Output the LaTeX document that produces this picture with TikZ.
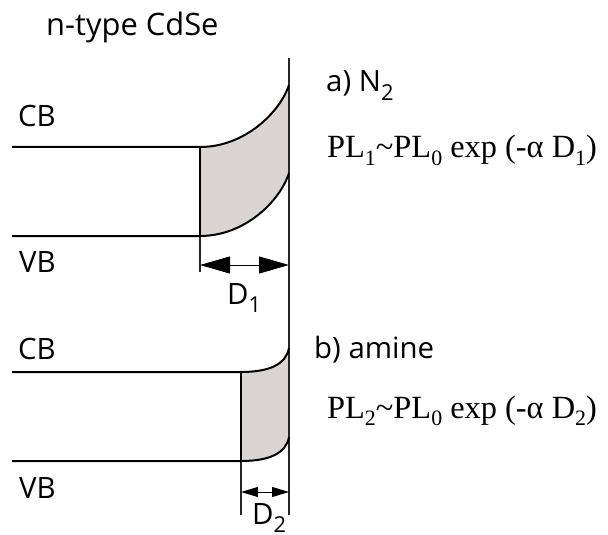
\documentclass[tikz,border=0pt]{standalone}
\usepackage{fontspec}
\setmainfont{Liberation Serif}
\newfontfamily\labfont{Open Sans}
\usetikzlibrary{arrows.meta}
\definecolor{bandfill}{RGB}{218,213,211}
\newcommand\sansdn[1]{\raisebox{-0.28em}{\fontsize{22}{22}\selectfont #1}}
\newcommand\serifdn[1]{\raisebox{-0.22em}{\fontsize{22}{22}\selectfont #1}}
\begin{document}
\begin{tikzpicture}[x=1bp,y=-1bp,
  band/.style={line width=2bp, black},
  guide/.style={line width=1.1bp, black!85},
  lab/.style={font=\labfont\fontsize{29.5}{29.5}\selectfont, anchor=base west, inner sep=0pt},
  formula/.style={font=\fontsize{32.5}{32.5}\selectfont, anchor=base west, inner sep=0pt},
  bigdim/.style={line width=1bp, {Triangle[length=30bp,width=17bp]}-{Triangle[length=30bp,width=17bp]}},
  smalldim/.style={line width=1bp, {Triangle[length=17bp,width=10bp]}-{Triangle[length=17bp,width=10bp]}}]
\useasboundingbox (0,0) rectangle (608,535);

% coordinates, top diagram
\coordinate (cbL) at (12,147);  \coordinate (cbK) at (200,147); \coordinate (cbE) at (289,85);
\coordinate (vbL) at (12,236);  \coordinate (vbK) at (200,236); \coordinate (vbE) at (289,173);
\coordinate (dAl) at (200,272); \coordinate (dAa) at (200,265); \coordinate (dAb) at (289,265);
% bottom diagram
\coordinate (cbL2) at (12,372); \coordinate (cbK2) at (241,372); \coordinate (cbE2) at (289,348);
\coordinate (vbL2) at (12,461); \coordinate (vbK2) at (241,461); \coordinate (vbE2) at (289,437);
\coordinate (dBl) at (241,515); \coordinate (dBa) at (241,492); \coordinate (dBb) at (289,492);
% surface
\coordinate (surfT) at (289,58); \coordinate (surfB) at (289,515);

% shaded depletion regions
\fill[bandfill] (cbK) -- (vbK) .. controls (245,236) and (280,201) .. (vbE) -- (cbE)
  .. controls (280,112) and (245,147) .. (cbK) -- cycle;
\fill[bandfill] (cbK2) -- (vbK2) .. controls (270,461) and (286,453) .. (vbE2) -- (cbE2)
  .. controls (286,364) and (270,372) .. (cbK2) -- cycle;

% guide lines
\draw[guide] (surfT) -- (surfB);
\draw[guide] (vbK) -- (dAl);
\draw[guide] (vbK2) -- (dBl);

% bands
\draw[band] (cbL) -- (cbK) .. controls (245,147) and (280,112) .. (cbE);
\draw[band] (vbL) -- (vbK) .. controls (245,236) and (280,201) .. (vbE);
\draw[band] (cbK) -- (vbK);
\draw[band] (cbL2) -- (cbK2) .. controls (270,372) and (286,364) .. (cbE2);
\draw[band] (vbL2) -- (vbK2) .. controls (270,461) and (286,453) .. (vbE2);
\draw[band] (cbK2) -- (vbK2);

% dimension arrows
\draw[bigdim] (dAa) -- (dAb);
\draw[smalldim] (dBa) -- (dBb);

% labels
\node[lab, font=\labfont\fontsize{31}{31}\selectfont] (title) at (46,36) {n-type CdSe};
\node[lab] (cb1) at (18,127) {CB};
\node[lab] (vb1) at (19,272) {VB};
\node[lab] (cb2) at (18,359) {CB};
\node[lab] (vb2) at (19,498) {VB};
\node[lab] (a) at (326,92) {a) N\sansdn{2}};
\node[lab] (b) at (314,358) {b) amine};
\node[lab] (d1) at (227,304) {D\sansdn{1}};
\node[lab] (d2) at (252,524) {D\sansdn{2}};
\node[formula] (f1) at (327,158) {PL\serifdn{1}\textasciitilde PL\serifdn{0} exp (-α D\serifdn{1})};
\node[formula] (f2) at (327,418) {PL\serifdn{2}\textasciitilde PL\serifdn{0} exp (-α D\serifdn{2})};
\end{tikzpicture}
\end{document}
